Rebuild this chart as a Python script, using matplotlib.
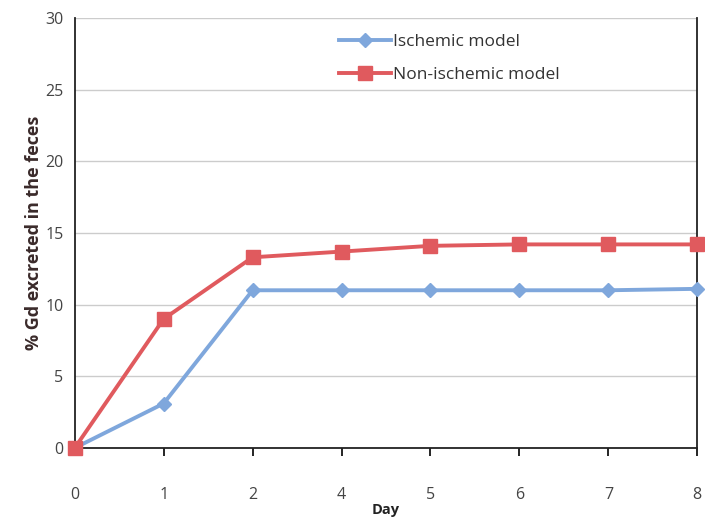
import matplotlib
matplotlib.use("Agg")
import matplotlib.pyplot as plt

# data
days = ["0", "1", "2", "4", "5", "6", "7", "8"]
ischemic = [0.0, 3.1, 11.0, 11.0, 11.0, 11.0, 11.0, 11.1]
non_ischemic = [0.0, 9.0, 13.3, 13.7, 14.1, 14.2, 14.2, 14.2]
y_ticks = [0, 5, 10, 15, 20, 25, 30]

plt.rcParams["font.family"] = ["Open Sans", "DejaVu Sans"]

fig = plt.figure(figsize=(7.05, 5.27), dpi=100)
ax = fig.add_axes([0.106, 0.150, 0.883, 0.816])

x = list(range(len(days)))
ax.plot(x, ischemic, "-D", color="#7fa7dc", lw=2.8, ms=7,
        label="Ischemic model", clip_on=False, zorder=3)
ax.plot(x, non_ischemic, "-s", color="#e05a5e", lw=2.8, ms=10,
        label="Non-ischemic model", clip_on=False, zorder=4)

ax.set_xlim(0, len(days) - 1)
ax.set_ylim(0, 30)
ax.set_xticks(x)
ax.set_xticklabels(days)
ax.set_yticks(y_ticks)
ax.tick_params(axis="x", direction="out", length=6, width=1.2, pad=22,
               labelsize=11.5, labelcolor="#444444")
ax.tick_params(axis="y", length=0, pad=8, labelsize=11.5, labelcolor="#444444")
ax.yaxis.grid(True, color="#cccccc", lw=1)
ax.set_axisbelow(True)

for side in ["left", "right", "bottom"]:
    ax.spines[side].set_color("#222222")
    ax.spines[side].set_linewidth(1.3)
ax.spines["top"].set_visible(False)

ax.set_xlabel("Day", fontsize=10.5, fontweight="bold", color="#222222", labelpad=0)
ax.set_ylabel("% Gd excreted in the feces", fontsize=13, fontweight="bold",
              color="#3a2a2a", labelpad=2)

ax.legend(loc="upper left", bbox_to_anchor=(0.40, 1.0), frameon=False,
          fontsize=12.5, handlelength=3.0, handletextpad=0.1, labelspacing=1.0,
          labelcolor="#333333")

fig.savefig("out.png", dpi=100)
